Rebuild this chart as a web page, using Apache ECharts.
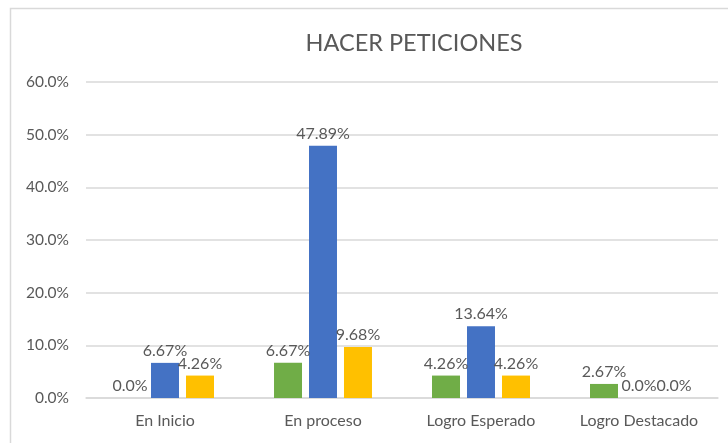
<!DOCTYPE html>
<html>
<head>
<meta charset="utf-8">
<script src="https://cdn.jsdelivr.net/npm/echarts@6/dist/echarts.min.js"></script>
<style>
  html, body { margin: 0; padding: 0; background: #fff; }
  #chart { width: 728px; height: 443px; }
</style>
</head>
<body>
<div id="chart"></div>
<script>
// datos del gráfico
const categorias = ['En Inicio', 'En proceso', 'Logro Esperado', 'Logro Destacado']
const serieVerde = [0, 6.67, 4.26, 2.67]
const serieAzul = [6.67, 47.89, 13.64, 0]
const serieAmarilla = [4.26, 9.68, 4.26, 0]
const colores = ['#70AD47', '#4472C4', '#FFC000']

const fuente = 'Lato'

// formato de etiquetas: 0 -> "0.0%", el resto con dos decimales
function formatoEtiqueta(p) {
  return p.value === 0 ? '0.0%' : p.value.toFixed(2) + '%'
}

function serie(nombre, datos, color) {
  return {
    name: nombre,
    type: 'bar',
    data: datos,
    barGap: '25%',
    barCategoryGap: '38%',
    itemStyle: { color: color },
    label: {
      show: true,
      position: 'top',
      distance: 4,
      color: '#595959',
      fontFamily: fuente,
      fontSize: 16,
      formatter: formatoEtiqueta
    }
  }
}

const chart = echarts.init(document.getElementById('chart'))

chart.setOption({
  animation: false,
  title: {
    text: 'HACER PETICIONES',
    left: 409,
    top: 26,
    textAlign: 'center',
    textStyle: { color: '#595959', fontFamily: fuente, fontSize: 23.5, fontWeight: 'normal' }
  },
  graphic: [{
    type: 'rect',
    shape: { x: 10.5, y: 8.5, width: 740, height: 460 },
    style: { fill: 'none', stroke: '#d9d9d9', lineWidth: 1.5 },
    silent: true
  }],
  grid: { left: 86, right: 10, top: 82, bottom: 45 },
  xAxis: {
    type: 'category',
    data: categorias,
    axisLine: { lineStyle: { color: '#d9d9d9', width: 1.5 } },
    axisTick: { show: false },
    axisLabel: { interval: 0, color: '#595959', fontFamily: fuente, fontSize: 16, margin: 15 }
  },
  yAxis: {
    type: 'value',
    min: 0,
    max: 60,
    interval: 10,
    axisLine: { show: false },
    axisTick: { show: false },
    splitLine: { lineStyle: { color: '#d9d9d9', width: 1.5 } },
    axisLabel: {
      color: '#595959',
      fontFamily: fuente,
      fontSize: 15.5,
      margin: 17,
      formatter: v => v.toFixed(1) + '%'
    }
  },
  series: [
    serie('Verde', serieVerde, colores[0]),
    serie('Azul', serieAzul, colores[1]),
    serie('Amarilla', serieAmarilla, colores[2])
  ]
})
</script>
</body>
</html>
